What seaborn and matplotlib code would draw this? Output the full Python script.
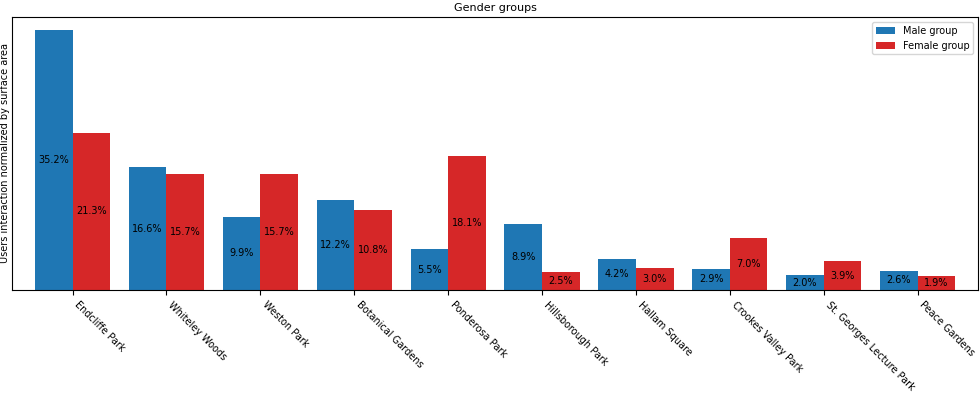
import matplotlib.pyplot as plt
import pandas as pd
import seaborn as sns

### Dados
parques = ["Endcliffe Park", "Whiteley Woods", "Weston Park", "Botanical Gardens",
           "Ponderosa Park", "Hillsborough Park", "Hallam Square", "Crookes Valley Park",
           "St. Georges Lecture Park", "Peace Gardens"]
masculino = [35.2, 16.6, 9.9, 12.2, 5.5, 8.9, 4.2, 2.9, 2.0, 2.6]
feminino = [21.3, 15.7, 15.7, 10.8, 18.1, 2.5, 3.0, 7.0, 3.9, 1.9]
grupos = ["Male group", "Female group"]
cores = ["#1f77b4", "#d62728"]

df = pd.DataFrame({
    "parque": parques * 2,
    "valor": masculino + feminino,
    "grupo": [grupos[0]] * len(parques) + [grupos[1]] * len(parques),
})

fig = plt.figure(figsize = (9.8, 3.94), dpi = 100)
ax = fig.add_axes([0.0122, 0.264, 0.986, 0.693])
sns.barplot(data = df, x = "parque", y = "valor", hue = "grupo", palette = cores,
            width = 0.8, saturation = 1, ax = ax)

for cont in ax.containers:
    ax.bar_label(cont, labels = [f"{v:.1f}%" for v in cont.datavalues],
                 label_type = "center", fontsize = 7)

ax.set_xlim(-0.645, 9.645)
ax.set_ylim(0, max(masculino) * 1.05)
ax.set_yticks([])
ax.set_xlabel("")
ax.set_ylabel("Users interaction normalized by surface area", fontsize = 7)
ax.yaxis.set_label_coords(-0.002, 0.5)
ax.set_title("Gender groups", fontsize = 8, pad = 4)
plt.setp(ax.get_xticklabels(), rotation = -45, ha = "left", fontsize = 7)
ax.legend(loc = "upper right", fontsize = 7, title = None)

plt.savefig("out.png", dpi = 100)
